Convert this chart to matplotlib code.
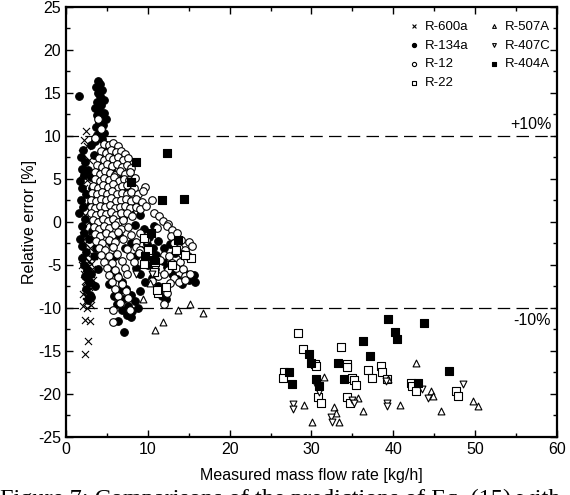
import numpy as np
import matplotlib
matplotlib.use("Agg")
import matplotlib.pyplot as plt
from matplotlib.ticker import MultipleLocator

plt.rcParams["font.family"] = ["Liberation Sans", "DejaVu Sans"]
plt.rcParams["axes.unicode_minus"] = False

# ---- data: (measured flow [kg/h], relative error [%]) ----
r600a = [
    (2.4, 10.6), (2.2, 9.5), (2.6, 8.8), (2.0, 8.0), (2.8, 7.2), (2.3, 6.5), (1.9, 5.6),
    (2.6, 4.9), (2.2, 4.0), (2.9, 3.2), (2.0, 2.5), (2.5, 1.7), (2.3, 0.8), (2.8, 0.0),
    (2.1, -0.8), (2.6, -1.6), (2.3, -2.4), (2.9, -3.0), (2.5, -3.6), (2.2, -4.1),
    (2.8, -4.5), (3.1, -4.9), (2.4, -5.3), (2.7, -5.7), (3.2, -5.5), (2.2, -6.1),
    (2.9, -6.5), (2.5, -7.0), (3.1, -7.3), (2.3, -7.6), (2.7, -8.0), (2.1, -8.4),
    (2.9, -8.8), (2.5, -9.2), (2.1, -9.8), (2.6, -10.0), (2.3, -11.4), (2.9, -11.5),
    (2.7, -13.8), (2.3, -15.3), (3.4, -4.0), (3.0, -2.0), (1.9, -5.0), (3.3, -6.8),
    (2.6, -5.0), (3.0, -6.0), (2.4, -6.8), (2.8, -7.6), (2.4, -8.6), (3.0, -9.6),
]

r134a = [
    # spike
    (3.9, 16.4), (4.2, 16.0), (3.7, 15.7), (4.4, 15.4), (3.9, 15.0), (4.2, 14.6),
    (4.6, 14.2), (3.8, 14.0), (4.3, 13.6), (3.6, 13.2), (4.0, 13.0), (4.7, 12.7),
    (3.8, 12.4), (4.3, 12.2), (4.9, 12.0), (4.0, 11.6), (4.5, 11.3), (3.7, 11.0),
    (4.1, 10.6), (4.6, 10.3), (3.8, 10.1), (4.4, 9.7), (3.5, 9.4), (4.9, 9.0),
    (1.6, 14.7),
    # left column
    (2.1, 8.4), (1.8, 7.6), (2.3, 7.0), (1.9, 6.2), (2.2, 5.5), (1.7, 4.8), (2.0, 4.0),
    (2.4, 3.3), (1.8, 2.6), (2.1, 1.8), (1.6, 1.0), (2.3, 0.3), (1.9, -0.5), (2.2, -1.3),
    (1.7, -2.0), (2.0, -2.8), (2.4, -3.5), (1.9, -4.2), (2.2, -5.0), (2.6, -5.6),
    (2.3, -6.3), (2.8, -7.0), (2.5, -7.8), (2.9, -8.5), (2.7, -9.1),
    (3.0, 9.0), (2.7, 6.0), (3.2, 4.0), (2.9, 2.0), (3.3, 0.0), (2.8, -2.0), (3.4, -4.0),
    (3.0, -6.0), (3.5, -7.5), (3.1, -8.7), (3.4, 7.8), (3.1, 5.2), (3.6, 2.8), (3.2, -1.0),
    (3.7, -3.0), (3.9, -5.5),
    # body
    (5.5, 6.0), (6.8, 5.0), (4.6, 3.0), (5.9, 1.5), (7.0, 0.5), (4.4, -1.0), (5.5, -2.5),
    (6.5, -1.5), (7.2, -3.0), (6.0, -4.0), (7.8, 1.0), (8.4, -0.3), (8.0, -2.5), (9.0, 0.8),
    (9.5, -0.8), (10.2, -1.8), (10.8, -0.5), (5.0, 8.0), (6.0, 7.5), (7.6, 4.0), (8.5, 2.0),
    # lower band
    (8.5, -4.0), (9.2, -3.2), (9.9, -2.6), (10.6, -3.0), (11.3, -2.2), (12.0, -3.0),
    (12.7, -2.6), (13.3, -3.6), (11.0, -3.8), (11.8, -4.5), (12.4, -5.2), (13.0, -6.0),
    (13.6, -6.6), (14.2, -7.2), (15.0, -6.8), (15.6, -6.2), (15.8, -7.0), (14.7, -6.0),
    (10.0, -5.0), (10.5, -6.5), (11.2, -7.5), (11.7, -8.6), (12.2, -9.0), (9.6, -7.0),
    (9.0, -6.0), (8.6, -5.3),
    # lower left
    (5.6, -5.4), (6.2, -6.2), (6.8, -7.0), (7.3, -7.8), (7.9, -8.5), (8.4, -9.2),
    (6.5, -8.0), (7.0, -9.0), (7.6, -9.8), (8.1, -10.4), (6.8, -10.2), (7.4, -10.8),
    (8.0, -11.0), (6.4, -11.5), (7.1, -12.8), (5.3, -7.2), (5.9, -8.6), (6.2, -9.5),
    (8.8, -10.0), (9.0, -8.0),
]

r12 = [
    (3.9, 12.0), (4.3, 10.8), (3.6, 9.8),
    (4.6, 9.1), (5.2, 8.9), (5.8, 9.2), (6.3, 8.8),
    (4.3, 8.3), (4.9, 8.0), (5.5, 8.4), (6.1, 8.1), (6.7, 8.2), (7.2, 7.9),
    (4.0, 7.4), (4.6, 7.2), (5.2, 7.6), (5.8, 7.3), (6.4, 7.5), (7.0, 7.2), (7.6, 7.4),
    (3.8, 6.6), (4.4, 6.4), (5.0, 6.8), (5.6, 6.5), (6.2, 6.7), (6.8, 6.4), (7.4, 6.6), (8.0, 6.3),
    (3.6, 5.8), (4.2, 5.6), (4.8, 5.9), (5.4, 5.7), (6.0, 5.5), (6.6, 5.9), (7.2, 5.6), (7.8, 5.8),
    (3.5, 5.0), (4.1, 4.8), (4.7, 5.1), (5.3, 4.9), (5.9, 5.2), (6.5, 4.8), (7.1, 5.0),
    (7.7, 4.9), (8.4, 5.1),
    (3.3, 4.2), (3.9, 4.0), (4.5, 4.3), (5.1, 4.1), (5.7, 4.4), (6.3, 4.0), (6.9, 4.2),
    (7.5, 4.3), (8.3, 4.0), (9.6, 4.1),
    (3.2, 3.4), (3.8, 3.2), (4.4, 3.5), (5.0, 3.3), (5.6, 3.6), (6.2, 3.2), (6.8, 3.4),
    (7.4, 3.3), (8.0, 3.5), (8.8, 3.2), (9.4, 3.6),
    (3.1, 2.6), (3.7, 2.4), (4.3, 2.7), (4.9, 2.5), (5.5, 2.8), (6.1, 2.4), (6.7, 2.6),
    (7.3, 2.7), (7.9, 2.4), (8.6, 2.7), (9.3, 2.3), (10.5, 2.5),
    (3.0, 1.8), (3.6, 1.6), (4.2, 1.9), (4.8, 1.7), (5.4, 2.0), (6.0, 1.6), (6.6, 1.8),
    (7.2, 1.9), (7.8, 1.6), (8.5, 1.8), (9.1, 1.5), (9.8, 1.9),
    (3.1, 1.0), (3.7, 0.8), (4.3, 1.1), (4.9, 0.9), (5.5, 1.2), (6.1, 0.8), (6.7, 1.0),
    (7.4, 1.1), (8.1, 0.7), (10.8, 1.0), (11.4, 0.7),
    (3.3, 0.2), (3.9, 0.0), (4.5, 0.3), (5.1, 0.1), (5.7, 0.4), (6.4, 0.0), (7.0, 0.2),
    (11.9, 0.1), (12.5, -0.2),
    (3.4, -0.6), (4.0, -0.8), (4.7, -0.5), (5.3, -0.7), (6.0, -0.4), (6.7, -0.8),
    (7.6, -0.6), (11.1, -0.7), (12.3, -0.5), (13.0, -0.9),
    (3.5, -1.4), (4.2, -1.6), (4.9, -1.3), (5.6, -1.5), (6.4, -1.2), (8.0, -1.5),
    (9.0, -1.3), (12.8, -1.6), (13.6, -1.3),
    (3.7, -2.2), (4.4, -2.4), (5.2, -2.1), (6.0, -2.3), (7.0, -2.0), (8.6, -2.3),
    (9.8, -2.1), (13.2, -2.4), (14.0, -2.1), (15.0, -2.3),
    (4.0, -3.0), (4.8, -3.2), (5.7, -2.9), (7.4, -3.1), (8.5, -2.9), (9.1, -3.3),
    (13.8, -3.0), (14.6, -3.2), (15.4, -2.8),
    (4.3, -3.8), (5.2, -4.0), (6.2, -3.7), (7.8, -3.9), (8.9, -3.6), (12.0, -3.8),
    (12.6, -4.0), (14.2, -3.7), (14.9, -4.0),
    (4.6, -4.6), (5.6, -4.8), (6.8, -4.5), (8.3, -4.7), (11.5, -4.4), (13.0, -4.8),
    (13.9, -4.6),
    (5.0, -5.4), (6.0, -5.6), (7.2, -5.3), (10.9, -5.5), (12.5, -5.6), (13.4, -5.3),
    (14.3, -5.5),
    (5.3, -6.2), (6.4, -6.4), (7.5, -6.1), (11.3, -6.3), (12.0, -6.1), (13.2, -6.5),
    (14.5, -6.3), (15.2, -6.0),
    (5.6, -7.0), (6.9, -7.2), (10.5, -6.9), (12.7, -7.1), (13.8, -7.0), (14.6, -6.8),
    (6.0, -7.8), (7.3, -8.0), (11.8, -7.9), (12.3, -8.2),
    (6.3, -8.6), (7.6, -8.8), (6.6, -9.4), (12.0, -9.5), (5.8, -10.2), (7.8, -10.2),
    (5.7, -11.6),
]

r22 = [
    # low flow group
    (9.5, -1.9), (13.4, -3.3), (15.3, -4.2), (9.5, -4.9), (10.9, -4.6), (10.7, -5.8),
    (12.2, -7.6), (11.2, -8.3), (11.1, -7.9), (13.0, -5.0), (14.5, -3.8), (10.0, -3.2),
    # high flow group
    (28.4, -12.9), (29.0, -14.8), (33.6, -14.5), (30.4, -16.5), (30.6, -16.7),
    (26.6, -17.5), (26.5, -18.1), (34.3, -16.5), (34.4, -16.9), (36.9, -17.2),
    (38.5, -16.8), (38.6, -17.4), (35.0, -18.1), (35.2, -18.4), (35.5, -19.0),
    (37.4, -18.1), (39.2, -18.3), (30.8, -20.3), (31.2, -21.0), (34.4, -20.4),
    (34.7, -21.0), (42.2, -18.7), (42.3, -19.1), (42.8, -19.7), (47.7, -19.6),
    (47.9, -20.2),
]

r507a = [
    (9.4, -9.0), (10.3, -7.1), (13.7, -10.2), (15.1, -9.5), (16.8, -10.6), (11.9, -11.6),
    (10.9, -12.6),
    (42.8, -16.4), (31.5, -18.0), (39.3, -18.3), (35.7, -20.5), (44.6, -19.7),
    (44.8, -20.2), (29.1, -21.3), (32.7, -21.5), (33.0, -22.2), (36.3, -22.0),
    (40.8, -21.3), (45.8, -22.0), (49.7, -20.8), (50.3, -21.4), (30.1, -23.3),
    (33.4, -23.3),
]

r407c = [
    (8.6, -6.1), (10.5, -6.0),
    (27.7, -21.2), (27.8, -21.7), (30.6, -18.9), (30.9, -19.8), (32.4, -22.7),
    (32.5, -23.2), (35.0, -20.7), (35.2, -21.1), (39.2, -21.0), (39.2, -21.4),
    (43.5, -19.4), (44.3, -20.5), (48.5, -18.8), (39.1, -18.5),
]

r404a = [
    (8.6, 7.0), (12.4, 8.0), (7.9, 4.6), (11.7, 2.5), (14.4, 2.7), (10.4, -1.3),
    (13.7, -2.1), (9.7, -4.0), (10.8, -4.4),
    (39.4, -11.3), (43.8, -11.7), (40.2, -12.8), (40.5, -13.6), (36.3, -13.8),
    (37.1, -15.6), (29.7, -15.4), (30.0, -16.4), (33.2, -16.4), (27.3, -17.4),
    (27.6, -18.8), (30.6, -18.3), (30.9, -19.1), (34.0, -18.3), (43.0, -18.7),
    (46.8, -17.3),
]

# name, data, marker, face, size
series = [
    ("R-600a", r600a, "x", "black", 26),
    ("R-134a", r134a, "o", "black", 30),
    ("R-12", r12, "o", "white", 30),
    ("R-22", r22, "s", "white", 27),
    ("R-507A", r507a, "^", "white", 24),
    ("R-407C", r407c, "v", "white", 24),
    ("R-404A", r404a, "s", "black", 32),
]


fig = plt.figure(figsize=(5.7, 4.95), dpi=100)
ax = fig.add_axes([0.1158, 0.1172, 0.8612, 0.8687])

for name, pts, mk, face, size in series:
    xy = np.array(pts)
    if mk == "x":
        ax.scatter(xy[:, 0], xy[:, 1], marker=mk, s=size, c="black",
                   linewidths=0.8, label=name, zorder=3)
    else:
        ax.scatter(xy[:, 0], xy[:, 1], marker=mk, s=size, facecolors=face,
                   edgecolors="black", linewidths=0.8, label=name, zorder=3)

# +/-10 % bands
for lim in (10, -10):
    ax.axhline(lim, color="black", lw=0.9, dashes=(10, 5), zorder=2)
ax.text(59.3, 11.3, "+10%", ha="right", va="center", fontsize=11.5)
ax.text(59.3, -11.4, "-10%", ha="right", va="center", fontsize=11.5)

ax.set_xlim(0, 60)
ax.set_ylim(-25, 25)
ax.xaxis.set_major_locator(MultipleLocator(10))
ax.xaxis.set_minor_locator(MultipleLocator(5))
ax.yaxis.set_major_locator(MultipleLocator(5))
ax.yaxis.set_minor_locator(MultipleLocator(2.5))
ax.tick_params(which="both", direction="in", top=True, right=True,
               labelsize=11.5, width=1.0)
ax.tick_params(which="major", length=5)
ax.tick_params(which="minor", length=3)
for sp in ax.spines.values():
    sp.set_linewidth(1.6)

ax.set_xlabel("Measured mass flow rate [kg/h]", fontsize=11.5, labelpad=8)
ax.set_ylabel("Relative error [%]", fontsize=11.5, labelpad=1)

leg = ax.legend(ncol=2, loc="upper left", bbox_to_anchor=(0.68, 0.99),
                frameon=False, fontsize=9.5, markerscale=0.55,
                handlelength=0.8, handletextpad=0.4, columnspacing=1.55,
                labelspacing=0.5, borderpad=0.2)

# figure caption, cut off by the page edge as in the source
fig.text(0.0, -0.02, "Figure 7: Comparisons of the predictions of Eq. (15) with",
         fontsize=17.5, family=["Liberation Serif", "DejaVu Serif"],
         va="baseline", ha="left")

fig.savefig("out.png", dpi=100)
